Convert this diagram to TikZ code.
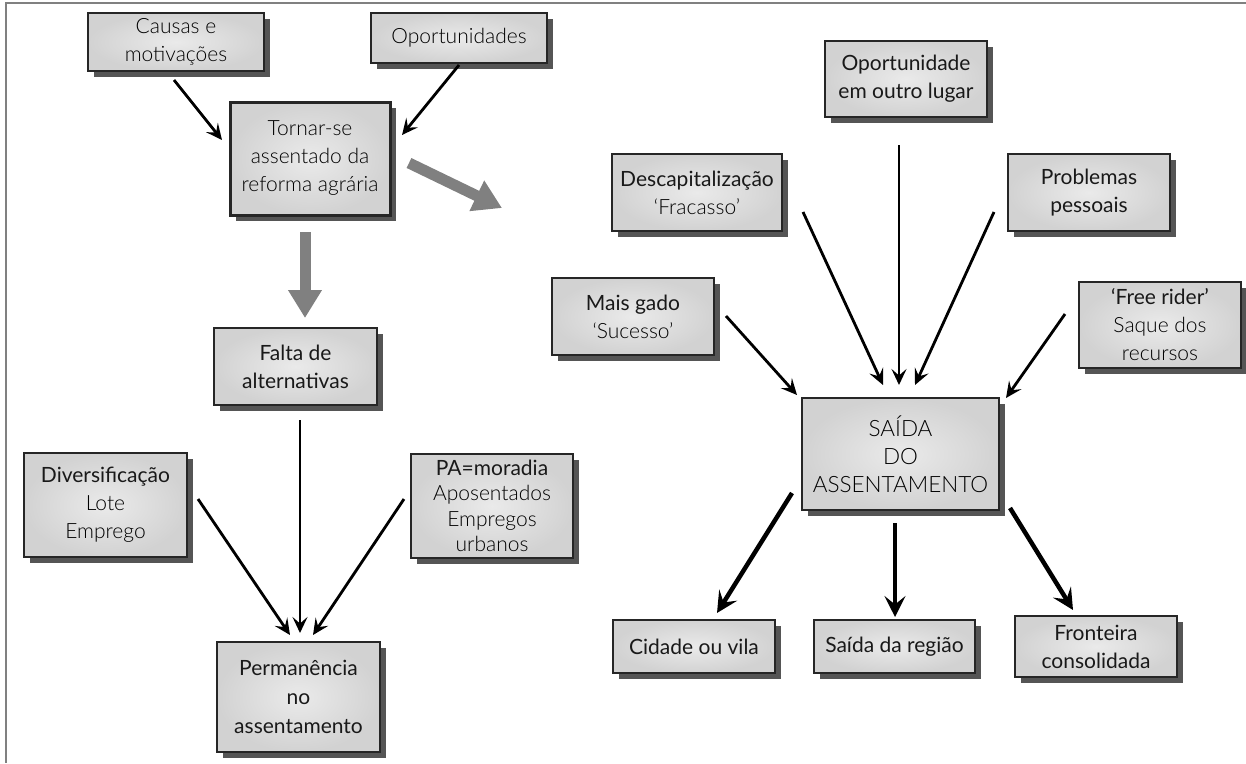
\documentclass[tikz,border=0pt]{standalone}
\usepackage{fontspec}
\setmainfont{Lato}
\newfontfamily\lightf{Lato Light}
\usetikzlibrary{shadows,arrows.meta,calc}
\definecolor{boxin}{RGB}{234,234,234}
\definecolor{boxout}{RGB}{210,210,210}
\definecolor{shad}{RGB}{85,85,85}
\definecolor{framec}{RGB}{128,128,128}
\definecolor{garrow}{RGB}{128,128,128}
\begin{document}
\begin{tikzpicture}[x=1pt,y=-1pt,
  box/.style={draw=black!85, line width=1.3pt, inner color=boxin, outer color=boxout,
    drop shadow={shadow xshift=6pt, shadow yshift=-6pt, fill=shad, opacity=1},
    align=center, inner sep=0pt, font=\fontsize{21}{28}\selectfont, text=black!90},
  lt/.style={font=\lightf\fontsize{21}{28}\selectfont, text=black},
  arr/.style={line width=2.8pt, -{Stealth[length=16pt,width=15pt,inset=6.5pt]}},
  arrb/.style={line width=4.5pt, -{Stealth[length=21pt,width=21pt,inset=8.5pt]}},
  garr/.style={draw=garrow, line width=11pt, -{Triangle[length=28pt,width=32pt]}},
]
\useasboundingbox (0,0) rectangle (1246,763);
\fill[white] (0,0) rectangle (1246,763);
\draw[framec, line width=2.5pt] (5,3) -- (1246,3);
\draw[framec, line width=2.5pt] (6,3) -- (6,763);

% left part
\node[box, lt, minimum width=176pt, minimum height=58pt] (caus) at (176,42) {Causas e\\motivações};
\node[box, lt, minimum width=176pt, minimum height=50pt] (oport) at (459,38) {Oportunidades};
\node[box, lt, line width=3pt, minimum width=160pt, minimum height=113pt] (tornar) at (310,158.5) {Tornar-se\\assentado da\\reforma agrária};
\node[box, minimum width=163pt, minimum height=77pt] (falta) at (295.5,366.5) {Falta de\\alternativas};
\node[box, minimum width=163pt, minimum height=104pt] (divers) at (105.5,505) {Diversificação\\{\lightf\color{black} Lote}\\{\lightf\color{black} Emprego}};
\node[box, minimum width=162pt, minimum height=104pt, font=\fontsize{21}{25.5}\selectfont] (pa) at (492,506) {PA=moradia\\{\lightf\color{black} Aposentados}\\{\lightf\color{black} Empregos}\\{\lightf\color{black} urbanos}};
\node[box, minimum width=163pt, minimum height=110pt, font=\fontsize{21}{29}\selectfont] (perm) at (298.5,697) {Permanência\\no\\assentamento};

% right part
\node[box, minimum width=162pt, minimum height=76pt] (outro) at (906,79) {Oportunidade\\em outro lugar};
\node[box, minimum width=170pt, minimum height=77pt] (descap) at (697,192.5) {Descapitalização\\{\lightf\color{black} ‘Fracasso’}};
\node[box, minimum width=162pt, minimum height=77pt] (probl) at (1089,192.5) {Problemas\\pessoais};
\node[box, minimum width=162pt, minimum height=77pt] (mais) at (633,316.5) {Mais gado\\{\lightf\color{black} ‘Sucesso’}};
\node[box, minimum width=162pt, minimum height=86pt] (free) at (1160,325) {‘Free rider’\\{\lightf\color{black} Saque dos}\\{\lightf\color{black} recursos}};
\node[box, lt, minimum width=197pt, minimum height=112pt, font=\lightf\fontsize{22.5}{28}\selectfont] (saida) at (900.5,454) {SAÍDA\\DO\\ASSENTAMENTO};
\node[box, minimum width=162pt, minimum height=53pt] (cidade) at (694,646.5) {Cidade ou vila};
\node[box, minimum width=161pt, minimum height=53pt] (regiao) at (894.5,646.5) {Saída da região};
\node[box, minimum width=162pt, minimum height=61pt] (front) at (1096,646.5) {Fronteira\\consolidada};

% connectors left
\draw[arr] ($(caus.center)+(-2,38)$) -- ($(tornar.center)+(-88,-18.5)$);
\draw[arr] ($(oport.center)+(0,27)$) -- ($(tornar.center)+(92,-23.5)$);
\coordinate (gend) at (502,208);
\draw[garr] ($(tornar.center)+(99,4.5)$) -- (gend);
\draw[garr] ($(tornar.center)+(-5,73.5)$) -- ($(falta.center)+(9.5,-48.5)$);
\draw[arr] ($(falta.center)+(4.5,53.5)$) -- ($(perm.center)+(1.5,-64)$);
\draw[arr] ($(divers.center)+(92.5,-6)$) -- ($(perm.center)+(-8.5,-62)$);
\draw[arr] ($(pa.center)+(-88,-7)$) -- ($(perm.center)+(14.5,-62)$);

% connectors right
\draw[arr] ($(outro.center)+(-7,66)$) -- ($(saida.center)+(-1.5,-69)$);
\draw[arr] ($(descap.center)+(106,19.5)$) -- ($(saida.center)+(-17.5,-69)$);
\draw[arr] ($(probl.center)+(-95,19.5)$) -- ($(saida.center)+(14.5,-69)$);
\draw[arr] ($(mais.center)+(93,-0.5)$) -- ($(saida.center)+(-103.5,-59)$);
\draw[arr] ($(free.center)+(-95,-11)$) -- ($(saida.center)+(105.5,-56)$);
\draw[arrb] ($(saida.center)+(-108.5,39)$) -- ($(cidade.center)+(23,-33.5)$);
\draw[arrb] ($(saida.center)+(-5.5,69)$) -- ($(regiao.center)+(0.5,-29.5)$);
\draw[arrb] ($(saida.center)+(109.5,54)$) -- ($(front.center)+(-23,-36.5)$);
\end{tikzpicture}
\end{document}
